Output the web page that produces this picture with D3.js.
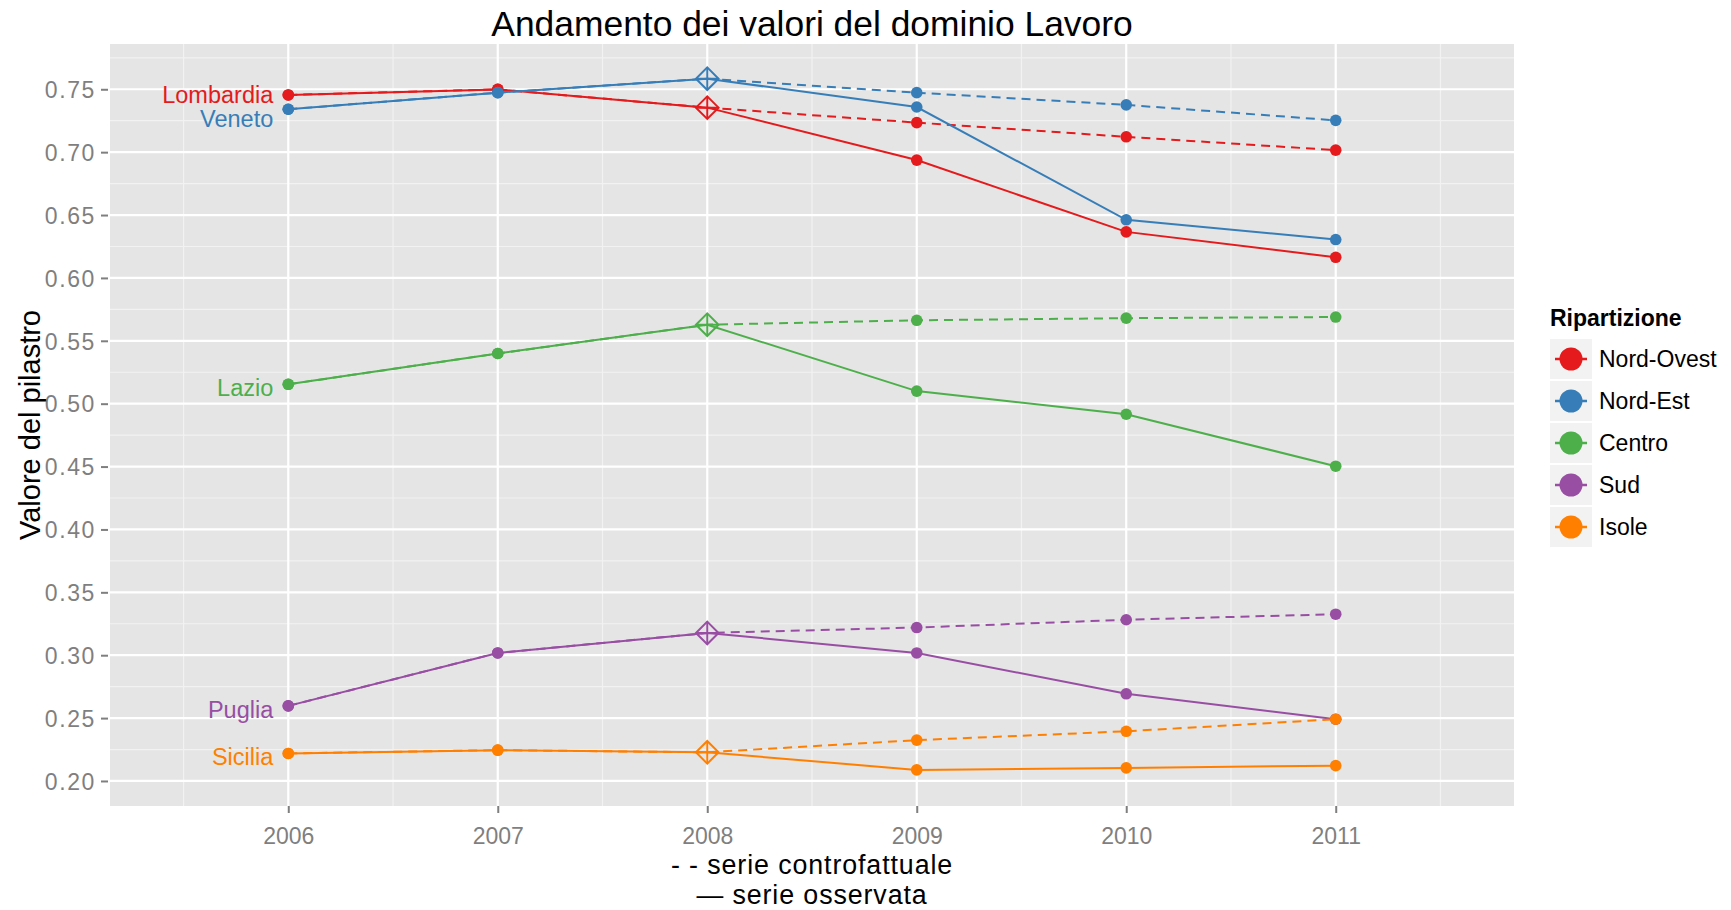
<!DOCTYPE html>
<html>
<head>
<meta charset="utf-8">
<script src="https://cdn.jsdelivr.net/npm/d3@7"></script>
<style>
  html, body { margin: 0; padding: 0; background: #fff; }
  text { font-family: "Liberation Sans", Arial, Helvetica, sans-serif; }
</style>
</head>
<body>
<svg id="chart" width="1731" height="910"></svg>
<script>
// ---------- data ----------
const years = [2006, 2007, 2008, 2009, 2010, 2011];
const regions = ["Nord-Ovest", "Nord-Est", "Centro", "Sud", "Isole"];
const regionLabels = ["Lombardia", "Veneto", "Lazio", "Puglia", "Sicilia"];
const colors = ["#E41A1C", "#377EB8", "#4DAF4A", "#984EA3", "#FF7F00"];

const observedNordOvest = [0.7455, 0.7499, 0.7354, 0.6937, 0.6366, 0.6164];
const observedNordEst   = [0.7341, 0.7473, 0.7584, 0.7359, 0.6462, 0.6305];
const observedCentro    = [0.5154, 0.5399, 0.5628, 0.5100, 0.4916, 0.4503];
const observedSud       = [0.2597, 0.3018, 0.3177, 0.3018, 0.2693, 0.2491];
const observedIsole     = [0.2219, 0.2245, 0.2228, 0.2088, 0.2104, 0.2122];

const counterNordOvest  = [0.7455, 0.7499, 0.7354, 0.7235, 0.7122, 0.7016];
const counterNordEst    = [0.7341, 0.7473, 0.7584, 0.7473, 0.7376, 0.7253];
const counterCentro     = [0.5154, 0.5399, 0.5628, 0.5663, 0.5680, 0.5689];
const counterSud        = [0.2597, 0.3018, 0.3177, 0.3220, 0.3282, 0.3326];
const counterIsole      = [0.2219, 0.2245, 0.2228, 0.2325, 0.2395, 0.2491];

const treatmentYear = 2008;
const yTicks = [0.20, 0.25, 0.30, 0.35, 0.40, 0.45, 0.50, 0.55, 0.60, 0.65, 0.70, 0.75];
const yMinor = [0.225, 0.275, 0.325, 0.375, 0.425, 0.475, 0.525, 0.575, 0.625, 0.675, 0.725, 0.775];
const xMinor = [2005.5, 2006.5, 2007.5, 2008.5, 2009.5, 2010.5, 2011.5];

const titleText = "Andamento dei valori del dominio Lavoro";
const yTitle = "Valore del pilastro";
const xTitleLines = ["- - serie controfattuale", "\u2014 serie osservata"];
const legendTitle = "Ripartizione";

const observed = [observedNordOvest, observedNordEst, observedCentro, observedSud, observedIsole];
const counter = [counterNordOvest, counterNordEst, counterCentro, counterSud, counterIsole];

// ---------- layout ----------
const panel = { left: 110, right: 1514, top: 44, bottom: 806 };
const svg = d3.select("#chart");

const x = d3.scaleLinear().domain([2005.149, 2011.851]).range([panel.left, panel.right]);
const y = d3.scaleLinear().domain([0.1801, 0.7860]).range([panel.bottom, panel.top]);

// panel background
svg.append("rect")
  .attr("x", panel.left).attr("y", panel.top)
  .attr("width", panel.right - panel.left).attr("height", panel.bottom - panel.top)
  .attr("fill", "#E5E5E5");

const grid = svg.append("g");
// minor grid
grid.selectAll(".ymin").data(yMinor).join("line")
  .attr("x1", panel.left).attr("x2", panel.right)
  .attr("y1", d => y(d)).attr("y2", d => y(d))
  .attr("stroke", "#F2F2F2").attr("stroke-width", 1.2);
grid.selectAll(".xmin").data(xMinor).join("line")
  .attr("y1", panel.top).attr("y2", panel.bottom)
  .attr("x1", d => x(d)).attr("x2", d => x(d))
  .attr("stroke", "#F2F2F2").attr("stroke-width", 1.2);
// major grid
grid.selectAll(".ymaj").data(yTicks).join("line")
  .attr("x1", panel.left).attr("x2", panel.right)
  .attr("y1", d => y(d)).attr("y2", d => y(d))
  .attr("stroke", "#FFFFFF").attr("stroke-width", 2.2);
grid.selectAll(".xmaj").data(years).join("line")
  .attr("y1", panel.top).attr("y2", panel.bottom)
  .attr("x1", d => x(d)).attr("x2", d => x(d))
  .attr("stroke", "#FFFFFF").attr("stroke-width", 2.2);

// axes
const yAxis = d3.axisLeft(y).tickValues(yTicks).tickFormat(d3.format(".2f")).tickSize(7).tickPadding(5);
const yG = svg.append("g").attr("transform", `translate(${panel.left - 2},0)`).call(yAxis);
const xAxis = d3.axisBottom(x).tickValues(years).tickFormat(d3.format("d")).tickSize(7).tickPadding(15);
const xG = svg.append("g").attr("transform", `translate(0,${panel.bottom})`).call(xAxis);
[yG, xG].forEach(g => {
  g.select(".domain").remove();
  g.selectAll(".tick line").attr("stroke", "#7F7F7F").attr("stroke-width", 2);
  g.selectAll(".tick text").attr("fill", "#7F7F7F")
    .style("font-family", "'Liberation Sans', Arial, sans-serif").style("font-size", "23px");
});
yG.selectAll(".tick text").attr("dy", "0.36em").style("letter-spacing", "1.6px");
xG.selectAll(".tick text").attr("dy", "0.71em");

// ---------- series ----------
const line = d3.line().x((d, i) => x(years[i])).y(d => y(d));
const series = svg.append("g");

regions.forEach((r, k) => {
  const c = colors[k];
  series.append("path").datum(observed[k])
    .attr("d", line).attr("fill", "none").attr("stroke", c).attr("stroke-width", 2);
  series.append("path").datum(counter[k])
    .attr("d", line).attr("fill", "none").attr("stroke", c).attr("stroke-width", 2)
    .attr("stroke-dasharray", "9,6");
});

regions.forEach((r, k) => {
  const c = colors[k];
  const pts = [];
  years.forEach((yr, i) => {
    if (yr !== treatmentYear) {
      pts.push([yr, observed[k][i]]);
      pts.push([yr, counter[k][i]]);
    }
  });
  series.selectAll(null).data(pts).join("circle")
    .attr("cx", d => x(d[0])).attr("cy", d => y(d[1]))
    .attr("r", 5.8).attr("fill", c);
  // diamond with plus at treatment year
  const ti = years.indexOf(treatmentYear);
  const cx = x(treatmentYear), cy = y(observed[k][ti]);
  const h = 11.3;
  const g = series.append("g").attr("stroke", c).attr("stroke-width", 2).attr("fill", "none");
  g.append("path").attr("d", `M${cx},${cy - h}L${cx + h},${cy}L${cx},${cy + h}L${cx - h},${cy}Z`);
  g.append("path").attr("d", `M${cx},${cy - h}L${cx},${cy + h}M${cx - h},${cy}L${cx + h},${cy}`);
});

// region text labels at the first year
const labelShift = [0, 10, 4, 4, 4];
regions.forEach((r, k) => {
  svg.append("text")
    .attr("x", x(years[0]) - 15)
    .attr("y", y(observed[k][0]) + labelShift[k])
    .attr("dy", "0.34em")
    .attr("text-anchor", "end")
    .attr("fill", colors[k])
    .style("font-size", "23.5px")
    .text(regionLabels[k]);
});

// ---------- titles ----------
const cxPanel = (panel.left + panel.right) / 2;
svg.append("text").attr("x", cxPanel).attr("y", 36)
  .attr("text-anchor", "middle").style("font-size", "35.4px").attr("fill", "#000")
  .text(titleText);

svg.append("text")
  .attr("transform", `translate(40,${(panel.top + panel.bottom) / 2}) rotate(-90)`)
  .attr("text-anchor", "middle").style("font-size", "29px").attr("fill", "#000")
  .text(yTitle);

xTitleLines.forEach((t, i) => {
  svg.append("text").attr("x", cxPanel).attr("y", 874 + i * 30)
    .attr("text-anchor", "middle").style("font-size", "26.8px")
    .style("letter-spacing", "0.9px").attr("fill", "#000")
    .text(t);
});

// ---------- legend ----------
const lg = svg.append("g");
lg.append("text").attr("x", 1550).attr("y", 326)
  .style("font-size", "23px").style("font-weight", "bold").attr("fill", "#000")
  .text(legendTitle);
regions.forEach((r, k) => {
  const top = 339 + k * 42;
  lg.append("rect").attr("x", 1550).attr("y", top).attr("width", 42).attr("height", 40)
    .attr("fill", "#F2F2F2");
  lg.append("line").attr("x1", 1555).attr("x2", 1587).attr("y1", top + 20).attr("y2", top + 20)
    .attr("stroke", colors[k]).attr("stroke-width", 2.5);
  lg.append("circle").attr("cx", 1571).attr("cy", top + 20).attr("r", 11.5).attr("fill", colors[k]);
  lg.append("text").attr("x", 1599).attr("y", top + 20).attr("dy", "0.36em")
    .style("font-size", "23px").attr("fill", "#000").text(r);
});
</script>
</body>
</html>
